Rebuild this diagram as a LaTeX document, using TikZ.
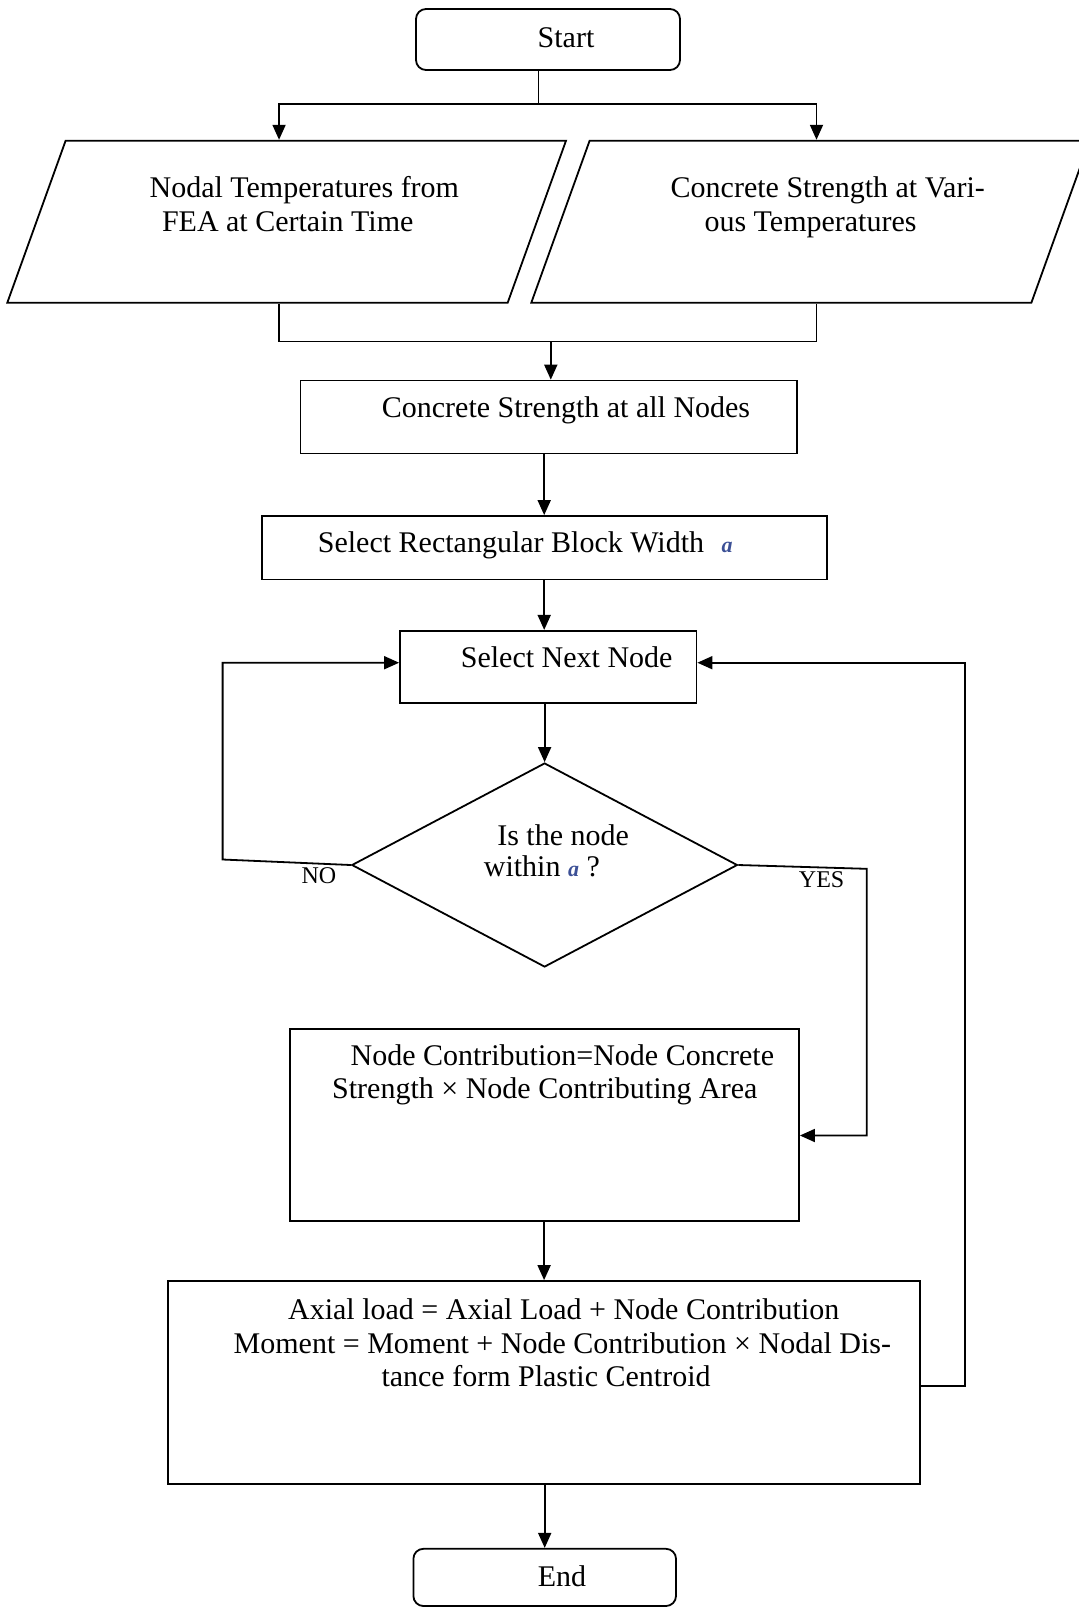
\documentclass[tikz,border=0pt]{standalone}
\usepackage{fontspec}
\setmainfont{Liberation Serif}
\usetikzlibrary{shapes.geometric}
\usetikzlibrary{arrows.meta}
\usetikzlibrary{calc}
\definecolor{asymblue}{RGB}{60,80,150}
\newcommand{\asym}{{\fontsize{11}{11}\selectfont\color{asymblue}\textbf{\textit{a}}}}

\begin{document}
\begin{tikzpicture}[x=0.5pt, y=-0.5pt, line width=0.9pt,
        box/.style={draw, rectangle, inner sep=0pt},
        term/.style={draw, rectangle, rounded corners=5pt, inner sep=0pt},
        io/.style={draw, trapezium, trapezium left angle=70.2, trapezium right angle=109.8, trapezium stretches body=true, inner xsep=2pt, inner ysep=40.5pt},
        decide/.style={draw, diamond, inner sep=0pt},
        txt/.style={inner sep=0pt, font=\fontsize{15}{16.8}\selectfont, align=left},
        tag/.style={inner sep=0pt, font=\fontsize{12}{14}\selectfont},
        arr/.style={-{Triangle[length=7.5pt,width=6.5pt]}}]
        \useasboundingbox (0,0) rectangle (1079,1608);

        \node[term, minimum width=132pt, minimum height=30.5pt]     (start)    at (548,39.5)     {};
        \node[io, minimum width=279.35pt]                           (nodal)    at (286.65,221.7) {};
        \node[io, minimum width=279.2pt]                            (curve)    at (810.5,221.7)  {};
        \node[box, minimum width=248.25pt, minimum height=36.45pt]  (allnodes) at (548.75,417)   {};
        \node[box, minimum width=282.55pt, minimum height=31.75pt]  (width)    at (544.2,547.75) {};
        \node[box, minimum width=148.25pt, minimum height=35.9pt]   (next)     at (548.25,666.7) {};
        \node[decide, minimum width=192.85pt, minimum height=102pt] (within)   at (544.6,865)    {};
        \node[box, minimum width=254.35pt, minimum height=95.9pt]   (contrib)  at (544.65,1124.7) {};
        \node[box, minimum width=375.9pt, minimum height=101.6pt]   (load)     at (544.1,1382.6) {};
        \node[term, minimum width=131.3pt, minimum height=28.6pt]   (finish)   at (544.7,1577.4) {};

        \node[txt]              (startT)   at (566,38)      {Start};
        \node[txt, anchor=west] (nodalT)   at (148.7,204)   {Nodal Temperatures from\\\hspace*{6.2pt}FEA at Certain Time};
        \node[txt, anchor=west] (curveT)   at (669.8,207)   {Concrete Strength at Vari-\\\hspace*{16.9pt}ous Temperatures};
        \node[txt]              (allT)     at (566,410)     {Concrete Strength at all Nodes};
        \node[txt, anchor=west] (widthT)   at (317,545.6)   {Select Rectangular Block Width\hspace{8.8pt}\asym};
        \node[txt]              (nextT)    at (566.7,657.5) {Select Next Node};
        \node[txt, anchor=west, font=\fontsize{15}{15.6}\selectfont] (withinT) at (483,851) {\hspace*{6.7pt}Is the node\\within \asym\ ?};
        \node[txt, anchor=west] (contribT) at (331.3,1075)  {\hspace*{9.2pt}Node Contribution=Node Concrete\\Strength × Node Contributing Area};
        \node[txt, anchor=west] (loadT)    at (232.8,1343)  {\hspace*{27.2pt}Axial load = Axial Load + Node Contribution\\Moment = Moment + Node Contribution × Nodal Dis-\\\hspace*{73.9pt}tance form Plastic Centroid};
        \node[txt]              (finishT)  at (562,1576.5)  {End};
        \node[tag]              (noL)      at (319,876)     {NO};
        \node[tag]              (yesL)     at (821.6,880)   {YES};

        % split after start
        \coordinate (split) at (538.5,103.6);
        \draw (split |- start.south) -- (split);
        \draw[arr] (split) -| ([xshift=-3.8pt]nodal.north);
        \draw[arr] (split) -| ([xshift=3pt]curve.north);

        % join of the two inputs
        \coordinate (join) at (550.8,341.5);
        \draw ([xshift=-3.8pt]nodal.south) |- (join) -| ([xshift=3pt]curve.south);
        \draw[arr] (join) -- (join |- allnodes.north);

        \draw[arr] (width.north |- allnodes.south) -- (width.north);
        \draw[arr] (width.south) -- (width.south |- next.north);
        \draw[arr] (within.north |- next.south) -- (within.north);

        % NO loop
        \coordinate (nobend) at (222.6,859.5);
        \draw[arr] (within.west) -- (nobend) |- ([yshift=2pt]next.west);

        % YES branch
        \coordinate (yesbend) at (866.7,868.8);
        \draw[arr] (within.east) -- (yesbend) |- ([yshift=-5.4pt]contrib.east);

        \draw[arr] (load.north |- contrib.south) -- (load.north);

        % back to next node
        \coordinate (back) at (965.2,1385.7);
        \draw[arr] (load.east |- back) -- (back) |- ([yshift=2pt]next.east);

        \draw[arr] (finish.north |- load.south) -- (finish.north);
\end{tikzpicture}
\end{document}
